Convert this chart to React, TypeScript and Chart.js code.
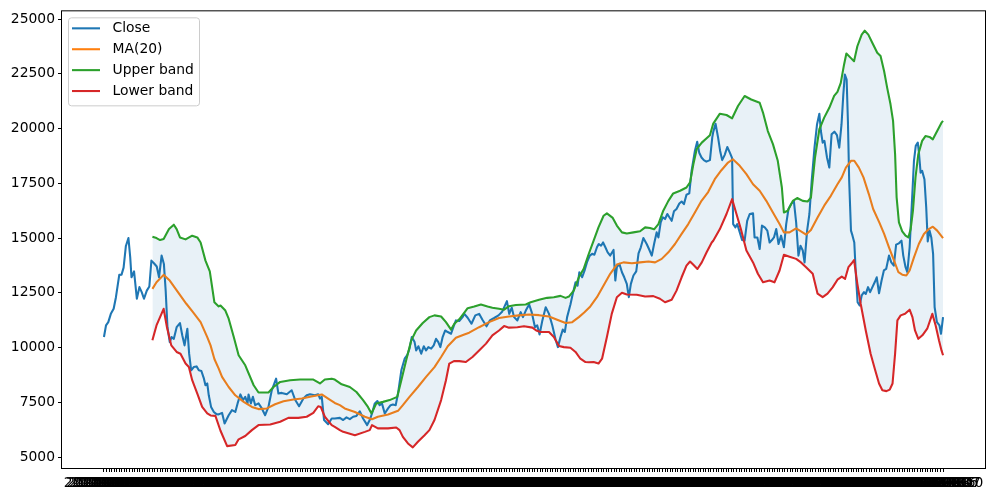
import React, { useEffect, useRef } from "react";
import { Chart, registerables } from "chart.js";

Chart.register(...registerables);

// ---------- data ----------
const N_POINTS = 330;
const START_DATE = "2022-01-04";

const seriesNames = ["Close", "MA(20)", "Upper band", "Lower band"];
const seriesColors = ["#1f77b4", "#ff7f0e", "#2ca02c", "#d62728"];
const yTickValues = [5000, 7500, 10000, 12500, 15000, 17500, 20000, 22500, 25000];

// [day index, value]
const closePts: [number, number][] = [
  [0,10480],[0.8,11010],[1.7,11160],[2.7,11540],[3.8,11770],[4.7,12300],[6,13320],[6.9,13330],[7.7,13650],[8.6,14640],[9.6,15000],[10.3,14120],[10.8,13210],[11.8,13480],[12.9,12230],[13.9,12760],[14.8,12530],[15.7,12230],[16.8,12600],[17.8,12790],[18.6,13970],[19.6,13850],[20.7,13700],[21.6,13210],[22.6,14200],[23.5,13820],[24.2,12600],[24.9,10930],[25.8,10250],[26.5,10480],[27.4,10400],[28.5,10930],[29.8,11120],[30.7,10560],[31.6,10100],[32.7,10860],[33.4,9720],[34.2,8960],[35.2,9110],[36.3,9140],[37.2,8960],[38.2,8930],[39.2,8580],[39.8,8280],[40.5,8360],[41.1,7820],[42,7290],[43.1,7060],[44.1,6960],[45,6950],[46.3,7020],[47.3,6530],[48.9,6910],[50.2,7140],[51.5,7060],[52.4,7450],[53.5,7860],[54.5,7600],[55.4,7750],[56.3,7450],[56.7,7860],[57.6,7450],[58.4,7750],[59.3,7370],[60.6,7450],[61.9,7220],[63.2,6910],[64.5,7290],[65.8,8050],[67.5,8580],[68.4,7900],[69.7,7930],[71.7,7870],[73.6,8050],[74.9,7630],[76.5,7320],[78.2,7670],[79.5,7820],[80.8,7870],[82.7,7820],[84,7870],[84.7,7670],[85.4,7750],[86.3,6690],[87.9,6500],[89.3,6760],[90.5,6760],[92.5,6790],[93.8,6690],[95.1,6810],[96.4,6730],[97.7,6840],[99,6880],[100.3,7090],[101.6,6760],[103.2,6460],[104.2,6690],[105.1,6990],[106.2,7450],[107.2,7560],[108.1,7370],[109,7450],[110.1,6990],[111.4,7220],[112.4,7370],[113.3,7400],[114.4,7370],[115.3,7900],[116.6,8960],[117.9,9490],[118.9,9650],[119.8,9950],[120.7,10480],[121.8,10250],[122.4,9870],[123.3,10060],[124.4,9720],[125.4,10060],[126.3,9870],[127.2,10020],[128.3,9950],[129.3,10100],[130.2,10400],[131.1,10250],[131.9,10020],[132.8,10480],[133.8,10780],[134.8,10710],[136.1,10630],[137.1,10970],[138,11240],[139.3,11210],[140.6,11390],[141.3,11540],[142.6,11360],[144.1,11090],[145.6,11470],[147.1,11540],[148.4,11270],[150,10970],[151.3,11240],[153,11350],[154.7,11470],[156.2,11650],[158,12120],[158.9,11540],[159.9,11820],[160.8,11390],[162.1,11240],[163.4,11620],[164.3,11390],[165.4,11690],[166.7,11970],[167.7,11620],[169,10930],[169.9,11010],[170.8,10600],[171.9,11240],[173.2,11840],[174.5,11540],[175.8,11010],[177.1,10360],[178,10020],[179,10480],[179.9,10820],[180.7,10710],[181.6,11390],[182.9,11970],[183.8,12450],[184.9,12980],[185.7,12830],[186.4,13440],[187.5,13210],[188.5,13540],[189.4,13900],[190.5,14200],[191.4,14280],[192.3,14240],[193.3,14580],[194,14730],[194.9,14650],[195.7,14800],[196.6,14580],[197.5,14350],[198.5,14200],[199.8,14460],[200.5,13060],[201.1,13670],[202.1,13820],[203.1,13440],[204,13210],[205,12910],[205.8,12300],[206.6,12910],[207.6,13290],[208.7,13480],[209.6,14300],[210.5,14580],[211.5,15000],[212.8,14730],[213.7,14500],[214.8,14200],[215.7,14730],[216.7,15260],[217.4,15030],[218.3,15720],[219.1,15950],[220,15870],[220.9,16100],[221.7,15950],[222.6,15790],[223.5,16220],[224.5,16330],[225.6,16580],[226.5,16670],[227.4,16550],[228.4,16980],[229.5,17040],[230.4,18070],[231.7,18980],[232.6,19400],[233.4,18900],[234.3,18680],[235.2,18560],[236.2,18490],[237.6,18560],[238.5,19590],[238.9,19850],[239.8,20220],[240.8,19590],[241.6,18980],[242.4,18560],[243.4,18800],[244.4,19160],[245.4,18900],[246.3,18650],[246.7,15640],[247.6,15490],[248.3,15640],[249.3,15260],[250.2,14910],[251.2,14880],[252.2,15790],[253.2,16100],[254.5,16130],[255.1,15030],[256.2,15030],[257.1,14500],[258,15570],[259.1,15490],[260.1,15340],[261,14800],[261.9,14910],[262.7,15030],[263.6,15410],[264.5,14730],[265.5,15110],[266.6,14580],[267.5,15640],[268.4,16330],[269.4,16550],[270.5,16700],[271.4,15720],[272.3,14200],[273.1,14650],[274,14430],[274.7,13890],[275.7,15340],[276.6,16100],[277.5,17610],[278.6,19130],[279.6,20200],[280.5,20680],[281.1,19890],[281.8,19360],[282.5,19440],[283.5,18680],[284.4,18220],[285.3,19740],[286.4,19860],[287.4,19700],[288.3,19130],[289.2,20200],[289.9,21560],[290.5,22470],[291.2,22240],[291.7,20350],[292.2,17610],[292.9,15340],[293.5,15110],[294.2,14800],[294.8,13370],[295.5,12070],[296.3,11920],[297.1,12380],[298,12530],[298.7,12450],[299.6,12760],[300.4,12530],[301.3,12760],[302.2,12980],[303,13210],[303.9,12480],[304.9,13060],[305.8,13520],[306.7,13590],[307.8,14200],[308.7,13890],[309.7,13740],[310.6,14700],[311.7,14760],[312.7,14880],[313.4,14200],[314.3,13670],[315,13440],[315.9,14580],[316.7,16400],[317.6,18530],[318.3,19210],[319.1,19360],[319.6,18830],[320.2,17990],[320.8,18070],[321.7,17690],[322.4,16400],[323,14850],[323.7,15340],[324.4,15030],[325.1,14280],[325.7,11840],[326.6,11160],[327.6,11010],[328.2,10630],[329,11390]
];

const maPts: [number, number][] = [
  [19,12680],[20.6,12980],[23.4,13320],[25.8,13060],[29.5,12450],[32.3,12000],[34.9,11620],[37.9,11160],[40.5,10480],[41.8,10100],[43.3,9480],[45,9040],[46.3,8660],[48.9,8200],[51.5,7820],[54.8,7520],[58,7290],[60.6,7190],[63.9,7220],[67.1,7410],[70.4,7550],[74.3,7630],[77.6,7670],[80.8,7750],[85.4,7860],[87.9,7670],[90.5,7470],[92.5,7370],[94.4,7220],[98.4,7060],[102.3,6840],[105.1,6730],[107.4,6840],[111.4,6940],[115.3,7110],[117.2,7370],[119.8,7750],[123.1,8200],[126.3,8660],[129.6,9110],[132.2,9570],[134.8,10060],[138,10450],[141.3,10600],[143.2,10680],[147.1,10930],[151,11160],[154.9,11350],[158.8,11420],[162.7,11470],[166.7,11510],[170.6,11480],[174.5,11420],[177.7,11270],[181,11120],[183.6,11160],[186.2,11390],[188.3,11600],[190.7,11880],[193.3,12300],[195.9,12830],[198.5,13370],[201.1,13790],[203.7,13890],[207,13850],[210.2,13890],[213.5,13930],[216.1,13890],[218.7,14050],[221.3,14350],[223.9,14730],[226.5,15190],[229.1,15640],[231.7,16170],[234.3,16700],[236.9,17100],[239.5,17690],[242.1,18100],[244.7,18450],[246.6,18600],[249.3,18300],[251.9,17920],[254.5,17460],[257.1,17160],[259.7,16700],[262.3,16170],[264.9,15640],[266.6,15260],[268.8,15260],[271.4,15440],[273.3,15310],[275.3,15160],[277.2,15370],[279.8,15940],[282.4,16480],[285,16930],[287.6,17460],[289.3,17770],[290.9,18220],[292.9,18530],[294.2,18530],[296,18220],[297.8,17770],[299.9,17010],[301.6,16330],[304,15720],[305.9,15190],[307.8,14580],[309.8,13970],[311.5,13440],[313,13330],[314.6,13290],[315.9,13520],[317.6,14120],[319.5,14730],[321.5,15190],[323.4,15410],[325,15520],[326.7,15340],[329,15000]
];

const upperPts: [number, number][] = [
  [19,15060],[20.6,15000],[22,14910],[23.4,14960],[25.5,15410],[27.4,15610],[28.5,15410],[29.8,15030],[32,14940],[34.6,15110],[36.6,15030],[37.9,14800],[39.8,13970],[41.5,13480],[43.3,12070],[45,11880],[45.7,11920],[47.6,11690],[48.9,11320],[50.9,10480],[52.8,9650],[55.4,9190],[58.7,8280],[60.6,7950],[64.5,7950],[66.5,8200],[69.1,8430],[73,8510],[76.9,8540],[82.1,8540],[84.7,8360],[86.6,8540],[89.3,8580],[90.5,8540],[93.2,8320],[96.4,8200],[99,7970],[101.6,7600],[103.5,7290],[104.9,6990],[105.5,7140],[106.8,7450],[109.4,7520],[112,7600],[115,7750],[116.6,8510],[118.5,9420],[120.5,10330],[122.4,10780],[125,11120],[127.6,11390],[129.6,11470],[132.2,11420],[134.1,11160],[136.1,10820],[137.4,11090],[139.3,11290],[141.3,11600],[142.6,11800],[145.2,11880],[147.8,11970],[150.4,11880],[152.3,11820],[154.9,11770],[156.9,11730],[158.8,11890],[161.5,11940],[165.4,11970],[167.3,12070],[170.6,12180],[173.8,12270],[176.4,12300],[179,12360],[181,12270],[182.3,12330],[184.2,12600],[186.2,13210],[188.1,13600],[190,14250],[192,14880],[193.9,15490],[195.9,16020],[197.2,16130],[199.5,15920],[201.1,15570],[203.1,15260],[205,15210],[207.6,15260],[210.2,15310],[212.2,15490],[214.1,15460],[215.7,15400],[217.4,15640],[219.3,16250],[221.3,16700],[223.2,17040],[225.9,17160],[228.4,17310],[229.8,17540],[231.1,18370],[232.4,19060],[234.4,19360],[236.3,19560],[237.6,19700],[238.9,20230],[241.5,20680],[244.1,20620],[246.3,20470],[248.6,21030],[251.2,21490],[253.8,21330],[257.1,21180],[258.4,20730],[260.3,19890],[262.3,19290],[264.2,18530],[265.8,17310],[266.6,16170],[268.1,16250],[270.1,16700],[271.8,16830],[274,16700],[275.9,16670],[277.2,16850],[278.8,18680],[280.5,19970],[282.4,20500],[284.4,20950],[286.3,21490],[287.6,21680],[288.9,22090],[290.2,22930],[291.1,23430],[292.8,23230],[294.1,23080],[295.4,23760],[297.1,24290],[298.3,24470],[299.7,24290],[301.3,23910],[303.2,23460],[304.5,23310],[305.9,22620],[307.1,21860],[308.4,21110],[309.4,20350],[310.2,18830],[310.8,16860],[311.7,15720],[313,15310],[314.3,15110],[315.4,15030],[316.3,15410],[317.2,16250],[318.2,17770],[319.3,18830],[320.8,19440],[322.1,19660],[323.7,19620],[325,19510],[326.7,19890],[328.4,20270],[329,20350]
];

const lowerPts: [number, number][] = [
  [19,10330],[20.6,11010],[23.4,11770],[24.7,10930],[26.4,10100],[28.5,9800],[30,9720],[32,9270],[33.3,9110],[34.6,8510],[36.6,7900],[38.5,7290],[40.5,6990],[41.8,6900],[43.7,6880],[45.7,6200],[48.3,5500],[51.5,5550],[52.8,5810],[55.4,5960],[58,6230],[60.6,6460],[65.2,6490],[69.1,6610],[72.3,6790],[76.2,6790],[79.5,6840],[82.1,7020],[84,7320],[85,7290],[86.6,6840],[89.3,6460],[90.5,6380],[92.5,6230],[93.8,6150],[98.4,6000],[102.3,6150],[104.2,6230],[105.1,6460],[107.4,6310],[111.4,6310],[114.6,6350],[115.9,6230],[117.2,5920],[119.2,5620],[121.1,5440],[123.1,5700],[125.7,6000],[127.6,6230],[129.6,6690],[132.2,7600],[134.1,8510],[135.4,9270],[137.4,9390],[139.3,9380],[141.9,9340],[144.5,9570],[147.1,9870],[149.8,10180],[152.3,10560],[154.9,10780],[156.9,10980],[158.8,10910],[162.1,10930],[164.7,10970],[168,10910],[169.5,10780],[171.2,10710],[174.5,10710],[176.4,10480],[178.4,10070],[180.3,10020],[182.9,9990],[184.9,9800],[186.8,9490],[188.8,9340],[190.1,9330],[192,9340],[193.9,9270],[195.3,9490],[197.2,10480],[199.1,11540],[201.1,12300],[203.1,12500],[205,12420],[208.9,12410],[212.2,12330],[215.4,12350],[218,12230],[220,12070],[222.6,12180],[224.5,12600],[226.5,13210],[228.4,13740],[229.8,13930],[231.1,13780],[232.7,13590],[234.4,13890],[236.3,14350],[238.3,14800],[238.9,14880],[241.5,15410],[244.1,16100],[246.3,16780],[248,16100],[249.9,15340],[251.9,14430],[254.5,13890],[256.4,13370],[258.4,12980],[261,13060],[262.9,12980],[264.9,13520],[266.6,14240],[268.8,14150],[271.4,14050],[273.3,13890],[275.3,13670],[277.9,13370],[279.8,12460],[281.8,12300],[283.7,12460],[285.7,12750],[287.6,13100],[289.3,13240],[290.6,13140],[291.9,13670],[293.2,13850],[294.1,14000],[295.4,12910],[296.7,12000],[298.7,10780],[300.6,9720],[302.4,8960],[303.9,8360],[305.2,8050],[306.8,8010],[308.1,8080],[309.2,8360],[310.2,9720],[311.1,11240],[312.4,11470],[314.1,11540],[315.9,11730],[317,11390],[318,10780],[319.3,10400],[320.9,10560],[322.8,10860],[324.8,11540],[326.1,11010],[327.4,10330],[328.4,9870],[329,9650]
];

// ---------- helpers ----------
function buildDates(start: string, n: number): string[] {
  const out: string[] = [];
  const d = new Date(start + "T00:00:00Z");
  while (out.length < n) {
    const w = d.getUTCDay();
    if (w !== 0 && w !== 6) out.push(d.toISOString().slice(0, 10));
    d.setUTCDate(d.getUTCDate() + 1);
  }
  return out;
}
const dateLabels = buildDates(START_DATE, N_POINTS);

const toXY = (pts: [number, number][]) => pts.map(([x, y]) => ({ x, y }));

const FONT = "'DejaVu Sans', 'Liberation Sans', sans-serif";
const FS = 13.89;

const frameLegendPlugin = {
  id: "frameLegend",
  afterDraw(chart: any) {
    const { ctx, chartArea: a } = chart;
    ctx.save();
    // axes frame
    ctx.strokeStyle = "#000";
    ctx.lineWidth = 1;
    ctx.strokeRect(a.left - 0.5, a.top - 0.5, a.right - a.left + 1, a.bottom - a.top + 1);

    // legend box
    const lx = a.left + 6.5, ly = a.top + 6.5, lw = 131, lh = 88, r = 3;
    ctx.beginPath();
    ctx.moveTo(lx + r, ly);
    ctx.lineTo(lx + lw - r, ly);
    ctx.arcTo(lx + lw, ly, lx + lw, ly + r, r);
    ctx.lineTo(lx + lw, ly + lh - r);
    ctx.arcTo(lx + lw, ly + lh, lx + lw - r, ly + lh, r);
    ctx.lineTo(lx + r, ly + lh);
    ctx.arcTo(lx, ly + lh, lx, ly + lh - r, r);
    ctx.lineTo(lx, ly + r);
    ctx.arcTo(lx, ly, lx + r, ly, r);
    ctx.closePath();
    ctx.fillStyle = "rgba(255,255,255,0.8)";
    ctx.fill();
    ctx.strokeStyle = "#cccccc";
    ctx.lineWidth = 1;
    ctx.stroke();

    ctx.font = `${FS}px ${FONT}`;
    ctx.textBaseline = "middle";
    ctx.textAlign = "left";
    seriesNames.forEach((name, i) => {
      const cy = ly + 10.5 + i * 20.9;
      ctx.strokeStyle = seriesColors[i];
      ctx.lineWidth = 2.08;
      ctx.beginPath();
      ctx.moveTo(lx + 3.5, cy);
      ctx.lineTo(lx + 31.5, cy);
      ctx.stroke();
      ctx.fillStyle = "#000";
      ctx.fillText(name, lx + 44, cy + 0.5);
    });
    ctx.restore();
  },
};

export default function App() {
  const ref = useRef<HTMLCanvasElement>(null);

  useEffect(() => {
    if (!ref.current) return;
    const lineBase = {
      pointRadius: 0,
      pointHoverRadius: 0,
      borderWidth: 2.08,
      tension: 0,
      borderJoinStyle: "round" as const,
    };
    const chart = new Chart(ref.current, {
      type: "line",
      data: {
        datasets: [
          { ...lineBase, label: seriesNames[0], data: toXY(closePts), borderColor: seriesColors[0], backgroundColor: seriesColors[0], fill: false, order: 4 },
          { ...lineBase, label: seriesNames[1], data: toXY(maPts), borderColor: seriesColors[1], backgroundColor: seriesColors[1], fill: false, order: 3 },
          { ...lineBase, label: seriesNames[2], data: toXY(upperPts), borderColor: seriesColors[2], backgroundColor: "rgba(31,119,180,0.1)", fill: 3, order: 2 },
          { ...lineBase, label: seriesNames[3], data: toXY(lowerPts), borderColor: seriesColors[3], backgroundColor: seriesColors[3], fill: false, order: 1 },
        ],
      },
      options: {
        animation: false,
        responsive: false,
        devicePixelRatio: 1,
        events: [],
        layout: { padding: { left: 0, right: 7, top: 10, bottom: 0 } },
        plugins: {
          legend: { display: false },
          tooltip: { enabled: false },
          title: { display: false },
        },
        scales: {
          x: {
            type: "linear",
            min: -16.45,
            max: 345.45,
            afterBuildTicks: (scale: any) => {
              scale.ticks = dateLabels.map((_, i) => ({ value: i }));
            },
            afterFit: (scale: any) => {
              scale.height = 27;
            },
            ticks: {
              autoSkip: false,
              maxRotation: 0,
              minRotation: 0,
              padding: 3,
              color: "#000",
              font: { family: FONT, size: FS },
              callback: (v: any) => dateLabels[Math.round(Number(v))] ?? "",
            },
            grid: {
              display: true,
              drawOnChartArea: false,
              drawTicks: true,
              tickLength: 4,
              tickColor: "#000",
              tickWidth: 1,
            },
            border: { display: false },
          },
          y: {
            type: "linear",
            min: 4500,
            max: 25355,
            afterBuildTicks: (scale: any) => {
              scale.ticks = yTickValues.map((v) => ({ value: v }));
            },
            afterFit: (scale: any) => {
              scale.width = 62;
            },
            ticks: {
              padding: 3,
              color: "#000",
              font: { family: FONT, size: FS },
              callback: (v: any) => String(v),
            },
            grid: {
              display: true,
              drawOnChartArea: false,
              drawTicks: true,
              tickLength: 4,
              tickColor: "#000",
              tickWidth: 1,
            },
            border: { display: false },
          },
        },
      },
      plugins: [frameLegendPlugin],
    });
    return () => chart.destroy();
  }, []);

  return (
    <div style={{ position: "fixed", left: 0, top: 0, width: 992, height: 495, background: "#fff" }}>
      <canvas ref={ref} width={992} height={495} style={{ display: "block", width: 992, height: 495 }} />
    </div>
  );
}
